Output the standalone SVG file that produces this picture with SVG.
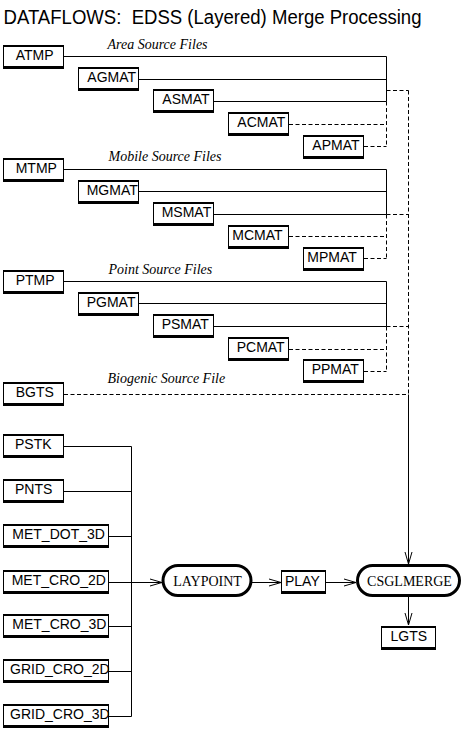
<svg xmlns="http://www.w3.org/2000/svg" width="469" height="732" viewBox="0 0 469 732">
<style>
  .bg { fill: #fff; }
  .title { font-family: "Liberation Sans", Arial, sans-serif; font-size: 20px; fill: #000; white-space: pre; }
  .grp { font-family: "Liberation Serif", "Times New Roman", serif; font-style: italic; font-size: 14px; fill: #000; }
  .box .o { fill: #fff; stroke: #000; stroke-width: 1; }
  .box .t, .box .b { fill: #000; }
  .box text { font-family: "Liberation Sans", Arial, sans-serif; font-size: 14px; fill: #000; }
  .proc rect { fill: #fff; stroke: #000; stroke-width: 3; }
  .proc text { font-family: "Liberation Serif", "Times New Roman", serif; font-size: 14px; fill: #000; text-anchor: middle; }
  .solid { fill: none; stroke: #000; stroke-width: 1; }
  .dash { fill: none; stroke: #000; stroke-width: 1; stroke-dasharray: 4 2.5; }
  .arr { marker-end: url(#ah); }
</style>
<defs>
  <marker id="ah" markerUnits="userSpaceOnUse" markerWidth="14" markerHeight="9" refX="12" refY="3.5" orient="auto" overflow="visible">
    <path d="M0,0 L12,3.5 L0,7" fill="none" stroke="#000" stroke-width="1"/>
  </marker>
</defs>
<rect class="bg" width="469" height="732"/>

<text class="title" x="3.5" y="24" textLength="418" lengthAdjust="spacingAndGlyphs" xml:space="preserve">DATAFLOWS:&#160; EDSS (Layered) Merge Processing</text>

<g id="labels">
  <text class="grp" x="107.5" y="49">Area Source Files</text>
  <text class="grp" x="108.5" y="161">Mobile Source Files</text>
  <text class="grp" x="108.5" y="274">Point Source Files</text>
  <text class="grp" x="107.5" y="383">Biogenic Source File</text>
</g>

<g id="connectors">
  <!-- Area -->
  <path class="solid" d="M64,56.5 H386.5 M139,79.5 H386.5 M214,101.5 H386.5 M386.5,56.5 V101.5"/>
  <path class="dash" d="M289,124.5 H386.5 M364,146.5 H386.5 M386.5,101.5 V146.5 M386.5,90.5 H408.5"/>
  <!-- Mobile -->
  <path class="solid" d="M64,169.5 H386.5 M139,191.5 H386.5 M214,214.5 H386.5 M386.5,169.5 V214.5"/>
  <path class="dash" d="M289,236.5 H386.5 M364,258.5 H386.5 M386.5,214.5 V258.5 M386.5,214.5 H408.5"/>
  <!-- Point -->
  <path class="solid" d="M64,281.5 H386.5 M139,303.5 H386.5 M214,326.5 H386.5 M386.5,281.5 V326.5"/>
  <path class="dash" d="M289,349.5 H386.5 M364,371.5 H386.5 M386.5,326.5 V371.5 M386.5,326.5 H408.5"/>
  <!-- Biogenic and trunk -->
  <path class="dash" d="M64,394.5 H408.5 M408.5,90.5 V394.5"/>
  <path class="solid arr" d="M408.5,394.5 V564"/>
  <!-- Lower inputs bus -->
  <path class="solid" d="M64,446.5 H131.5 M64,491.5 H131.5 M109,536.5 H131.5 M109,626.5 H131.5 M109,671.5 H131.5 M109,716.5 H131.5 M131.5,446.5 V716.5"/>
  <path class="solid arr" d="M109,582.5 H162"/>
  <path class="solid arr" d="M252,582.5 H281"/>
  <path class="solid arr" d="M326,582.5 H356"/>
  <path class="solid arr" d="M408.5,597 V625"/>
</g>

<!-- Area source nodes -->
<g id="n-ATMP" class="box" transform="translate(3,45)"><rect class="o" x="0.5" y="0.5" width="60" height="23"/><rect class="t" width="61" height="2"/><rect class="b" y="21" width="61" height="3"/><text x="12.7" y="15">ATMP</text></g>
<g id="n-AGMAT" class="box" transform="translate(78,67)"><rect class="o" x="0.5" y="0.5" width="60" height="23"/><rect class="t" width="61" height="2"/><rect class="b" y="21" width="61" height="3"/><text x="9.3" y="15">AGMAT</text></g>
<g id="n-ASMAT" class="box" transform="translate(153,89)"><rect class="o" x="0.5" y="0.5" width="60" height="23"/><rect class="t" width="61" height="2"/><rect class="b" y="21" width="61" height="3"/><text x="9.3" y="15">ASMAT</text></g>
<g id="n-ACMAT" class="box" transform="translate(228,112)"><rect class="o" x="0.5" y="0.5" width="60" height="23"/><rect class="t" width="61" height="2"/><rect class="b" y="21" width="61" height="3"/><text x="9.3" y="15">ACMAT</text></g>
<g id="n-APMAT" class="box" transform="translate(303,135)"><rect class="o" x="0.5" y="0.5" width="60" height="23"/><rect class="t" width="61" height="2"/><rect class="b" y="21" width="61" height="3"/><text x="9.3" y="15">APMAT</text></g>

<!-- Mobile source nodes -->
<g id="n-MTMP" class="box" transform="translate(3,158)"><rect class="o" x="0.5" y="0.5" width="60" height="23"/><rect class="t" width="61" height="2"/><rect class="b" y="21" width="61" height="3"/><text x="12.7" y="15">MTMP</text></g>
<g id="n-MGMAT" class="box" transform="translate(78,180)"><rect class="o" x="0.5" y="0.5" width="60" height="23"/><rect class="t" width="61" height="2"/><rect class="b" y="21" width="61" height="3"/><text x="8.7" y="15">MGMAT</text></g>
<g id="n-MSMAT" class="box" transform="translate(153,202)"><rect class="o" x="0.5" y="0.5" width="60" height="23"/><rect class="t" width="61" height="2"/><rect class="b" y="21" width="61" height="3"/><text x="8.7" y="15">MSMAT</text></g>
<g id="n-MCMAT" class="box" transform="translate(228,225)"><rect class="o" x="0.5" y="0.5" width="60" height="23"/><rect class="t" width="61" height="2"/><rect class="b" y="21" width="61" height="3"/><text x="4.3" y="15">MCMAT</text></g>
<g id="n-MPMAT" class="box" transform="translate(303,247)"><rect class="o" x="0.5" y="0.5" width="60" height="23"/><rect class="t" width="61" height="2"/><rect class="b" y="21" width="61" height="3"/><text x="4.3" y="15">MPMAT</text></g>

<!-- Point source nodes -->
<g id="n-PTMP" class="box" transform="translate(3,270)"><rect class="o" x="0.5" y="0.5" width="60" height="23"/><rect class="t" width="61" height="2"/><rect class="b" y="21" width="61" height="3"/><text x="12.7" y="15">PTMP</text></g>
<g id="n-PGMAT" class="box" transform="translate(78,292)"><rect class="o" x="0.5" y="0.5" width="60" height="23"/><rect class="t" width="61" height="2"/><rect class="b" y="21" width="61" height="3"/><text x="8.7" y="15">PGMAT</text></g>
<g id="n-PSMAT" class="box" transform="translate(153,314)"><rect class="o" x="0.5" y="0.5" width="60" height="23"/><rect class="t" width="61" height="2"/><rect class="b" y="21" width="61" height="3"/><text x="8.7" y="15">PSMAT</text></g>
<g id="n-PCMAT" class="box" transform="translate(228,337)"><rect class="o" x="0.5" y="0.5" width="60" height="23"/><rect class="t" width="61" height="2"/><rect class="b" y="21" width="61" height="3"/><text x="8.7" y="15">PCMAT</text></g>
<g id="n-PPMAT" class="box" transform="translate(303,359)"><rect class="o" x="0.5" y="0.5" width="60" height="23"/><rect class="t" width="61" height="2"/><rect class="b" y="21" width="61" height="3"/><text x="8.7" y="15">PPMAT</text></g>

<g id="n-BGTS" class="box" transform="translate(3,382)"><rect class="o" x="0.5" y="0.5" width="60" height="23"/><rect class="t" width="61" height="2"/><rect class="b" y="21" width="61" height="3"/><text x="12.7" y="15">BGTS</text></g>

<!-- LAYPOINT inputs -->
<g id="n-PSTK" class="box" transform="translate(3,434)"><rect class="o" x="0.5" y="0.5" width="60" height="23"/><rect class="t" width="61" height="2"/><rect class="b" y="21" width="61" height="3"/><text x="12" y="15">PSTK</text></g>
<g id="n-PNTS" class="box" transform="translate(3,479)"><rect class="o" x="0.5" y="0.5" width="60" height="23"/><rect class="t" width="61" height="2"/><rect class="b" y="21" width="61" height="3"/><text x="12" y="15">PNTS</text></g>
<g id="n-MET_DOT_3D" class="box" transform="translate(3,524)"><rect class="o" x="0.5" y="0.5" width="105" height="23"/><rect class="t" width="106" height="2"/><rect class="b" y="21" width="106" height="3"/><text x="9.3" y="15">MET_DOT_3D</text></g>
<g id="n-MET_CRO_2D" class="box" transform="translate(3,570)"><rect class="o" x="0.5" y="0.5" width="105" height="23"/><rect class="t" width="106" height="2"/><rect class="b" y="21" width="106" height="3"/><text x="8.7" y="15">MET_CRO_2D</text></g>
<g id="n-MET_CRO_3D" class="box" transform="translate(3,614)"><rect class="o" x="0.5" y="0.5" width="105" height="23"/><rect class="t" width="106" height="2"/><rect class="b" y="21" width="106" height="3"/><text x="9.3" y="15">MET_CRO_3D</text></g>
<g id="n-GRID_CRO_2D" class="box" transform="translate(3,659)"><rect class="o" x="0.5" y="0.5" width="105" height="23"/><rect class="t" width="106" height="2"/><rect class="b" y="21" width="106" height="3"/><text x="7" y="15">GRID_CRO_2D</text></g>
<g id="n-GRID_CRO_3D" class="box" transform="translate(3,704)"><rect class="o" x="0.5" y="0.5" width="105" height="23"/><rect class="t" width="106" height="2"/><rect class="b" y="21" width="106" height="3"/><text x="7" y="15">GRID_CRO_3D</text></g>

<!-- Processes and outputs -->
<g id="n-LAYPOINT" class="proc"><rect x="163" y="565.5" width="88" height="30" rx="15"/><text x="207.5" y="586">LAYPOINT</text></g>
<g id="n-PLAY" class="box" transform="translate(281,570)"><rect class="o" x="0.5" y="0.5" width="44" height="23"/><rect class="t" width="45" height="2"/><rect class="b" y="21" width="45" height="3"/><text x="4" y="15.5">PLAY</text></g>
<g id="n-CSGLMERGE" class="proc"><rect x="357.5" y="565.5" width="102" height="30" rx="15"/><text x="409.5" y="586">CSGLMERGE</text></g>
<g id="n-LGTS" class="box" transform="translate(381,626)"><rect class="o" x="0.5" y="0.5" width="54" height="23"/><rect class="t" width="55" height="2"/><rect class="b" y="21" width="55" height="3"/><text x="9.5" y="15">LGTS</text></g>
</svg>
